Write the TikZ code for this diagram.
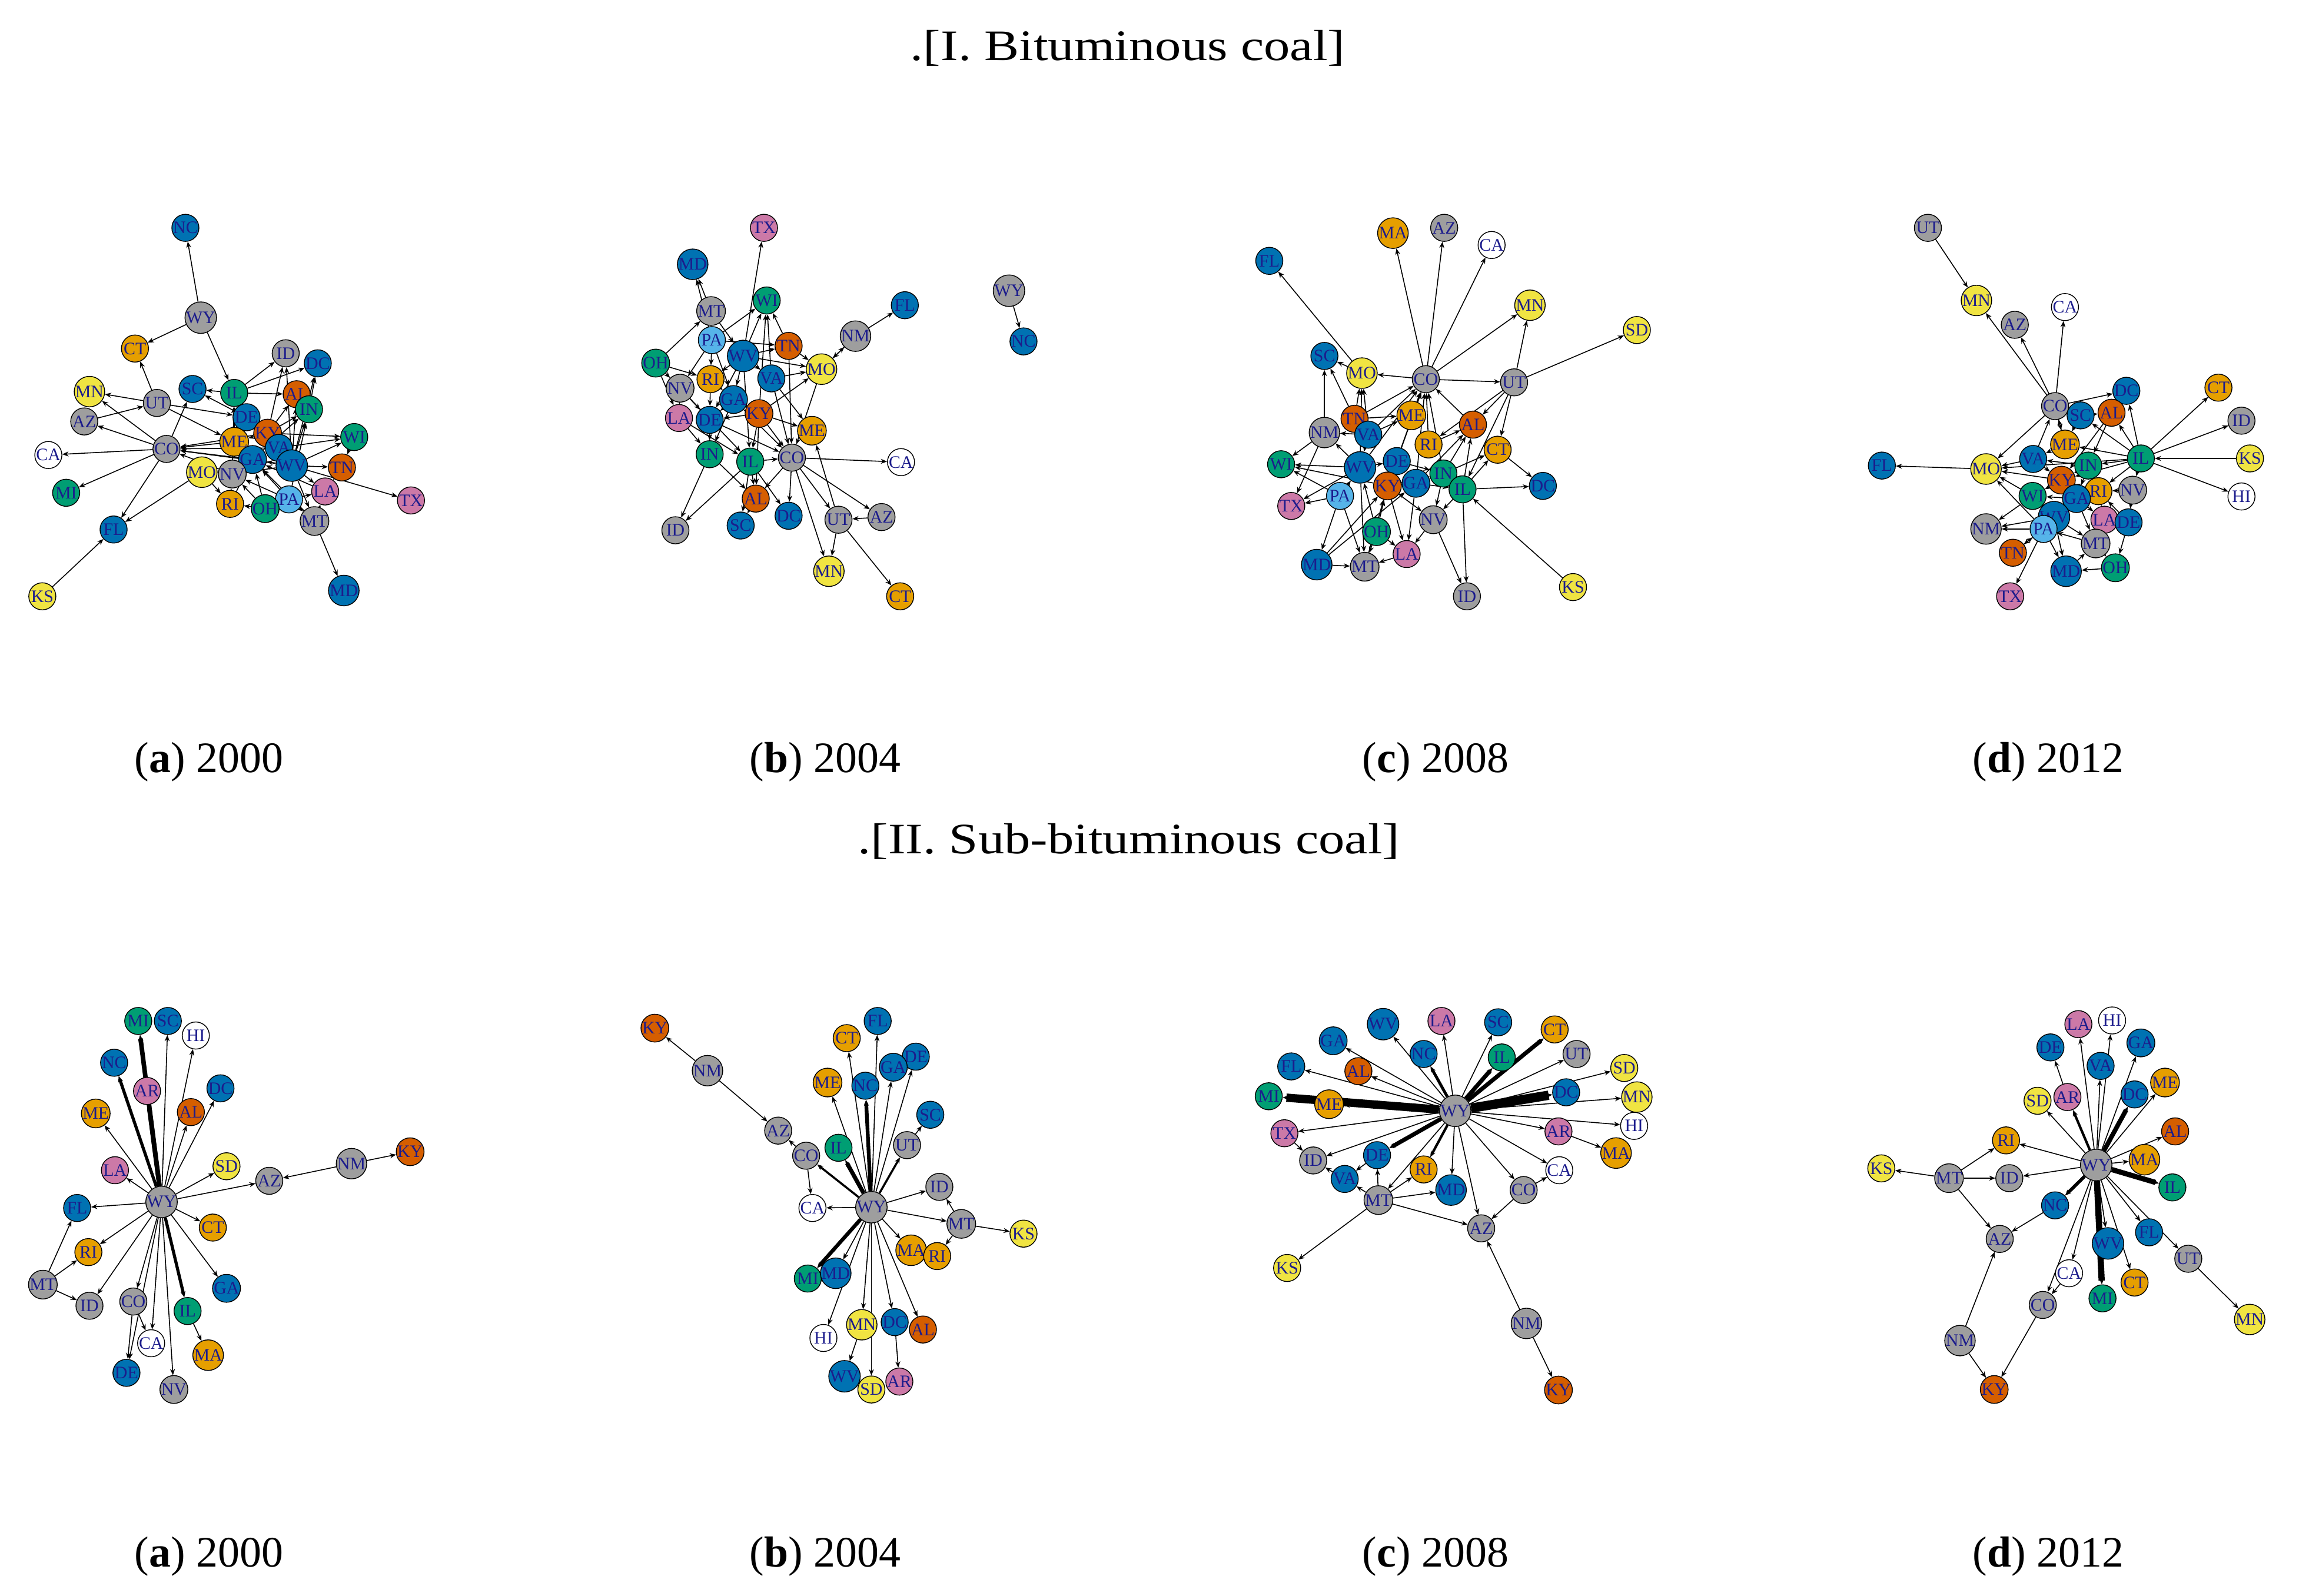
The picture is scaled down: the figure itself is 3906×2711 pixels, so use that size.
\documentclass[tikz,border=0pt]{standalone}
\usepackage{fontspec}
\setmainfont{Liberation Serif}
\usetikzlibrary{arrows.meta}

\definecolor{cgr}{HTML}{9E9E9E}
\definecolor{cbl}{HTML}{0072B2}
\definecolor{csk}{HTML}{56B4E9}
\definecolor{cor}{HTML}{E69F00}
\definecolor{cvm}{HTML}{D55E00}
\definecolor{cgn}{HTML}{009E73}
\definecolor{cyl}{HTML}{F0E442}
\definecolor{cpu}{HTML}{CC79A7}
\definecolor{cwh}{HTML}{FFFFFF}
\definecolor{lab}{HTML}{1C1C8C}

\pgfdeclarelayer{bg}
\pgfsetlayers{bg,main}

\begin{document}
\begin{tikzpicture}[x=0.01cm,y=-0.01cm,
    st/.style={circle,draw=black,line width=0.4pt,fill=#1,minimum size=0.46cm,
      inner sep=0pt,text=lab,font=\fontsize{8.5}{9}\selectfont},
    ed/.style={line width=0.45pt,-{Stealth[length=3pt,width=2.4pt]}},
    captxt/.style={font=\fontsize{21}{24}\selectfont},
    ttl/.style={captxt,transform shape,xscale=1.2},
    pnl/.style={x=0.004651cm,y=-0.004484cm}]
  \useasboundingbox (0,0) rectangle (3906,2711);

  % titles and captions
  \node[ttl] (title1) at (1916,82) {.[I. Bituminous coal]};
  \node[ttl] (title2) at (1918,1430) {.[II. Sub-bituminous coal]};
  \foreach \r/\y in {1/1295,2/2645}{
    \foreach \l/\x/\yr in {a/355/2000,b/1402/2004,c/2439/2008,d/3480/2012}{
      \node[captxt] (cap\r\l) at (\x,\y) {(\textbf{\l}) \yr};
    }
  }

  % I(a) 2000
  \begin{scope}[shift={(30,340)},pnl,name prefix=ia-]
    \foreach \n/\x/\y/\c in {NC/612/105/cbl,WY/668/445/cgr,CT/428/562/cor,ID/978/580/cgr,
      DC/1095/618/cbl,MN/262/725/cyl,SC/638/715/cbl,IL/790/730/cgn,UT/508/768/cgr,
      AL/1018/735/cvm,IN/1063/792/cgn,AZ/243/838/cgr,DE/835/822/cbl,KY/912/882/cvm,
      WI/1228/897/cgn,ME/790/915/cor,CO/543/942/cgr,VA/953/938/cbl,CA/112/965/cwh,
      GA/857/982/cbl,WV/1000/1005/cbl,TN/1183/1012/cvm,MO/672/1030/cyl,NV/783/1037/cgr,
      LA/1122/1103/cpu,MI/177/1108/cgn,TX/1435/1137/cpu,RI/775/1150/cor,PA/990/1133/csk,
      OH/903/1168/cgn,MT/1083/1215/cgr,FL/350/1247/cbl,MD/1190/1478/cbl,KS/90/1500/cyl}
      \node[st=\c] (\n) at (\x,\y) {\n};
    \begin{pgfonlayer}{bg}
      \foreach \s/\t in {WY/NC,WY/CT,WY/IL,UT/CT,UT/MN,CO/MN,CO/AZ,AZ/UT,CO/CA,CO/MI,
        CO/FL,MO/FL,KS/FL,CO/SC,UT/DE,UT/ME,IL/SC,DE/SC,IL/ID,IL/DC,IL/AL,ME/CO,GA/CO,
        KY/CO,VA/CO,WV/CO,NV/CO,MO/RI,MT/MD,WV/TX,KY/WI,WV/WI,VA/WI,WI/TN,WV/TN,WV/LA,
        PA/LA,WV/MT,PA/MT,OH/RI,PA/GA,OH/GA,PA/NV,OH/NV,GA/IN,KY/IN,WV/IN,PA/IN,WV/DC,
        IN/DC,KY/ID,WV/ID,KY/DE,WV/DE,VA/DE,KY/ME,GA/ME,WV/GA,NV/IL,WV/AL,KY/AL,RI/GA,
        MT/GA,LA/GA,WV/NV,TN/LA,MT/LA,ME/IL,RI/NV}
        \draw[ed] (\s) -- (\t);
    \end{pgfonlayer}
  \end{scope}

  % I(b) 2004
  \begin{scope}[shift={(1080,340)},pnl,name prefix=ib-]
    \foreach \n/\x/\y/\c in {TX/468/105/cpu,MD/208/243/cbl,WY/1362/343/cgr,WI/478/380/cgn,
      FL/982/398/cbl,MT/275/420/cgr,NM/802/515/cgr,PA/278/530/csk,NC/1415/535/cbl,
      TN/558/552/cvm,WV/392/590/cbl,OH/73/617/cgn,MO/678/640/cyl,RI/273/678/cor,
      VA/495/675/cbl,NV/162/712/cgr,GA/357/755/cbl,LA/158/825/cpu,KY/450/808/cvm,
      DE/270/832/cbl,ME/643/873/cor,IN/270/962/cgn,IL/418/990/cgn,CO/570/975/cgr,
      CA/968/992/cwh,AL/438/1130/cvm,DC/558/1195/cbl,SC/383/1232/cbl,UT/740/1210/cgr,
      AZ/897/1200/cgr,ID/145/1250/cgr,MN/705/1405/cyl,CT/965/1500/cor}
      \node[st=\c] (\n) at (\x,\y) {\n};
    \begin{pgfonlayer}{bg}
      \foreach \s/\t in {WY/NC,NM/FL,NM/MO,MO/NM,CO/CA,CO/AZ,AZ/UT,UT/MN,UT/CT,UT/ME,
        CO/MN,CO/UT,CO/DC,IN/ID,IL/ID,IN/AL,IL/AL,AL/SC,IL/SC,WV/TX,MT/MD,PA/MD,OH/MT,
        PA/WI,WV/WI,VA/WI,TN/WI,KY/WI,PA/TN,WV/TN,WV/VA,TN/MO,VA/MO,KY/MO,WV/MO,VA/ME,
        KY/ME,PA/RI,OH/RI,OH/NV,OH/LA,NV/LA,RI/DE,GA/DE,KY/DE,NV/DE,DE/IN,LA/IN,GA/IN,
        KY/IL,KY/CO,IL/CO,DE/CO,GA/CO,WV/GA,PA/GA,WV/RI,IL/DC,KY/AL,TN/CO,VA/CO,MO/CO,
        CO/AL,WV/IL,PA/NV,LA/IL,NV/IL,RI/GA,MT/WV,WV/DE}
        \draw[ed] (\s) -- (\t);
    \end{pgfonlayer}
  \end{scope}

  % I(c) 2008
  \begin{scope}[shift={(2130,340)},pnl,name prefix=ic-]
    \foreach \n/\x/\y/\c in {MA/508/125/cor,AZ/695/105/cgr,CA/868/170/cwh,FL/57/230/cbl,
      MN/1008/398/cyl,SD/1398/492/cyl,SC/258/590/cbl,MO/395/655/cyl,CO/628/678/cgr,
      UT/950/690/cgr,TN/368/828/cvm,ME/575/815/cor,AL/800/850/cvm,NM/258/880/cgr,
      VA/418/888/cbl,RI/638/925/cor,CT/890/945/cor,WI/100/1000/cgn,WV/388/1012/cbl,
      DE/522/988/cbl,IN/692/1035/cgn,DC/1055/1082/cbl,KY/488/1082/cvm,GA/592/1072/cbl,
      IL/762/1095/cgn,PA/315/1120/csk,TX/137/1158/cpu,NV/655/1210/cgr,OH/448/1255/cgn,
      LA/558/1340/cpu,MD/230/1380/cbl,MT/405/1388/cgr,ID/778/1500/cgr,KS/1165/1465/cyl}
      \node[st=\c] (\n) at (\x,\y) {\n};
    \begin{pgfonlayer}{bg}
      \foreach \s/\t in {CO/MA,CO/AZ,CO/CA,CO/MN,UT/MN,UT/SD,CO/UT,CO/MO,MO/SC,MO/FL,
        TN/SC,NM/SC,UT/AL,UT/CT,UT/RI,UT/IL,CT/DC,IL/DC,IL/ID,KS/IL,NV/ID,PA/TX,NM/TX,
        NM/WI,WV/WI,PA/WI,KY/WI,PA/MD,MD/MT,PA/MT,OH/MT,WV/MT,OH/LA,KY/LA,NV/LA,GA/LA,
        IN/NV,IL/NV,KY/NV,TN/CO,VA/CO,WV/CO,DE/CO,KY/CO,ME/CO,RI/CO,GA/CO,AL/CO,IN/CO,
        TN/ME,VA/ME,WV/MO,VA/MO,TN/MO,WV/NM,VA/NM,IN/CT,IL/CT,GA/AL,IN/AL,RI/AL,IL/AL,
        DE/IN,KY/IN,GA/IL,IN/IL,WV/DE,KY/GA,PA/WV,MD/KY,OH/WV,MT/KY,LA/MT,MD/GA,WV/TX,
        OH/KY,VA/WV}
        \draw[ed] (\s) -- (\t);
    \end{pgfonlayer}
  \end{scope}

  % I(d) 2012
  \begin{scope}[shift={(3160,340)},pnl,name prefix=id-]
    \foreach \n/\x/\y/\c in {UT/248/105/cgr,MN/425/380/cyl,CA/748/405/cwh,AZ/565/472/cgr,
      CT/1308/710/cor,DC/972/722/cbl,CO/712/780/cgr,SC/805/815/cbl,AL/918/805/cvm,
      ID/1392/835/cgr,ME/748/925/cor,FL/80/1005/cbl,VA/632/980/cbl,IN/833/1005/cgn,
      IL/1025/978/cgn,KS/1423/978/cyl,MO/460/1018/cyl,KY/735/1060/cvm,RI/870/1102/cor,
      NV/995/1098/cgr,WI/630/1120/cgn,GA/790/1130/cbl,HI/1392/1122/cwh,WV/708/1200/cbl,
      LA/892/1210/cpu,DE/980/1220/cbl,NM/460/1245/cgr,PA/670/1245/csk,MT/860/1300/cgr,
      TN/558/1335/cvm,OH/932/1392/cgn,MD/752/1405/cbl,TX/548/1500/cpu}
      \node[st=\c] (\n) at (\x,\y) {\n};
    \begin{pgfonlayer}{bg}
      \foreach \s/\t in {UT/MN,CO/MN,CO/AZ,CO/CA,CO/MO,MO/FL,IL/CT,IL/ID,KS/IL,IL/HI,
        CO/DC,SC/AL,IL/DC,IL/AL,IL/SC,IL/ME,IL/IN,IL/NV,IL/KY,IL/RI,IL/MO,VA/MO,KY/MO,
        WI/MO,PA/MO,WI/NM,WV/NM,PA/NM,PA/TN,PA/TX,TN/PA,WV/MD,PA/MD,OH/MD,MT/OH,MD/MT,
        LA/MT,DE/OH,NV/DE,VA/CO,ME/CO,CO/ME,SC/ME,ME/VA,IN/VA,KY/WI,GA/WI,IN/KY,RI/KY,
        NV/RI,RI/IN,AL/IN,AL/KY,GA/LA,LA/DE,WV/MT,RI/LA,GA/MT,WI/WV,KY/GA,DE/RI,IN/GA,
        CO/SC,VA/KY,MT/PA}
        \draw[ed] (\s) -- (\t);
    \end{pgfonlayer}
  \end{scope}

  % II(a) 2000
  \begin{scope}[shift={(30,1690)},pnl,name prefix=iia-]
    \foreach \n/\x/\y/\c in {MI/440/100/cgn,SC/548/100/cbl,HI/650/155/cwh,NC/352/258/cbl,
      AR/472/365/cpu,DC/740/355/cbl,ME/285/450/cor,AL/632/445/cvm,LA/355/665/cpu,
      SD/762/650/cyl,NM/1218/640/cgr,KY/1432/595/cvm,AZ/918/705/cgr,WY/525/785/cgr,
      FL/217/808/cbl,CT/712/882/cor,RI/258/975/cor,GA/762/1112/cbl,MT/92/1098/cgr,
      ID/262/1178/cgr,CO/422/1162/cgr,IL/620/1198/cgn,CA/487/1320/cwh,MA/695/1365/cor,
      DE/397/1432/cbl,NV/570/1495/cgr}
      \node[st=\c] (\n) at (\x,\y) {\n};
    \begin{pgfonlayer}{bg}
      \foreach \s/\t in {WY/SC,WY/HI,WY/DC,WY/ME,WY/AL,WY/LA,WY/SD,WY/AZ,NM/AZ,NM/KY,
        WY/FL,WY/CT,WY/RI,WY/GA,WY/ID,WY/CO,WY/CA,WY/NV,WY/DE,IL/MA,CO/CA,CO/DE,MT/FL,
        MT/RI,MT/ID}
        \draw[ed] (\s) -- (\t);
      \foreach \s/\t/\w in {WY/MI/2.2,WY/NC/1.5,WY/AR/2.2,WY/IL/1.5}
        \draw[ed,line width=\w pt] (\s) -- (\t);
    \end{pgfonlayer}
  \end{scope}

  % II(b) 2004
  \begin{scope}[shift={(1080,1690)},pnl,name prefix=iib-]
    \foreach \n/\x/\y/\c in {KY/70/127/cvm,FL/883/100/cbl,CT/770/165/cor,DE/1022/235/cbl,
      GA/940/275/cbl,NM/262/288/cgr,ME/700/333/cor,NC/838/345/cbl,SC/1075/455/cbl,
      AZ/520/515/cgr,UT/990/570/cgr,IL/740/580/cgn,CO/622/610/cgr,ID/1108/728/cgr,
      CA/645/808/cwh,WY/860/805/cgr,MT/1188/868/cgr,KS/1415/905/cyl,MA/1005/968/cor,
      RI/1100/990/cor,MI/628/1075/cgn,MD/730/1055/cbl,HI/685/1300/cwh,MN/825/1250/cyl,
      DC/945/1240/cbl,AL/1048/1268/cvm,WV/762/1445/cbl,SD/860/1495/cyl,AR/962/1465/cpu}
      \node[st=\c] (\n) at (\x,\y) {\n};
    \begin{pgfonlayer}{bg}
      \foreach \s/\t in {NM/KY,NM/AZ,CO/AZ,CO/CA,WY/CA,WY/ME,WY/CT,WY/FL,WY/GA,WY/DE,
        UT/SC,WY/ID,MT/ID,WY/MT,MT/KS,MT/RI,WY/MA,WY/MD,WY/HI,WY/MN,MN/WV,WY/SD,WY/DC,
        DC/AR,WY/AL}
        \draw[ed] (\s) -- (\t);
      \foreach \s/\t/\w in {WY/IL/2.0,WY/NC/1.8,WY/MI/1.8,WY/CO/1.0,WY/UT/1.0}
        \draw[ed,line width=\w pt] (\s) -- (\t);
    \end{pgfonlayer}
  \end{scope}

  % II(c) 2008
  \begin{scope}[shift={(2130,1690)},pnl,name prefix=iic-]
    \foreach \n/\x/\y/\c in {LA/685/100/cpu,WV/472/112/cbl,SC/892/105/cbl,CT/1098/132/cor,
      GA/290/175/cbl,NC/620/225/cbl,IL/905/238/cgn,UT/1178/225/cgr,FL/137/272/cbl,
      AL/382/290/cvm,SD/1352/278/cyl,DC/1140/370/cbl,MI/55/385/cgn,MN/1398/388/cyl,
      ME/275/415/cor,WY/735/440/cgr,HI/1388/497/cwh,TX/112/525/cpu,AR/1112/518/cpu,
      MA/1322/600/cor,ID/217/628/cgr,DE/450/608/cbl,CA/1115/665/cwh,RI/620/662/cor,
      VA/332/698/cbl,MD/720/740/cbl,CO/985/740/cgr,MT/455/778/cgr,AZ/830/885/cgr,
      KS/122/1035/cyl,NM/995/1245/cgr,KY/1112/1497/cvm}
      \node[st=\c] (\n) at (\x,\y) {\n};
    \begin{pgfonlayer}{bg}
      \foreach \s/\t in {WY/WV,WY/LA,WY/SC,WY/GA,WY/UT,WY/FL,WY/AL,WY/SD,WY/MN,WY/ME,
        WY/HI,WY/TX,WY/AR,AR/MA,WY/ID,WY/CA,WY/MD,WY/CO,WY/AZ,WY/MT,MT/DE,MT/VA,DE/VA,
        TX/ID,VA/ID,MT/RI,MT/MD,MT/AZ,MT/KS,CO/CA,CO/AZ,NM/AZ,NM/KY}
        \draw[ed] (\s) -- (\t);
      \foreach \s/\t/\w in {WY/MI/4.0,WY/DC/4.5,WY/CT/2.0,WY/IL/2.0,WY/NC/1.4,WY/DE/2.0,
        WY/RI/1.2}
        \draw[ed,line width=\w pt] (\s) -- (\t);
    \end{pgfonlayer}
  \end{scope}

  % II(d) 2012
  \begin{scope}[shift={(3160,1690)},pnl,name prefix=iid-]
    \foreach \n/\x/\y/\c in {HI/920/98/cwh,LA/797/112/cpu,GA/1025/183/cbl,DE/695/200/cbl,
      VA/878/270/cbl,ME/1113/333/cor,SD/648/402/cyl,AR/757/388/cpu,DC/1002/378/cbl,
      AL/1150/518/cvm,RI/533/552/cor,MA/1038/625/cor,WY/862/645/cgr,KS/78/658/cyl,
      MT/325/695/cgr,ID/545/695/cgr,IL/1140/730/cgn,NC/712/798/cbl,FL/1055/900/cbl,
      AZ/510/925/cgr,WV/905/942/cbl,UT/1198/1000/cgr,CA/763/1055/cwh,CT/1002/1090/cor,
      CO/667/1175/cgr,MI/885/1150/cgn,NM/365/1310/cgr,MN/1422/1230/cyl,KY/490/1495/cvm}
      \node[st=\c] (\n) at (\x,\y) {\n};
    \begin{pgfonlayer}{bg}
      \foreach \s/\t in {WY/HI,WY/LA,WY/GA,AR/DE,WY/VA,WY/ME,WY/SD,WY/AL,WY/RI,WY/MA,
        WY/ID,WY/FL,WY/UT,UT/MN,WY/WV,WY/CT,WY/CA,WY/CO,CA/CO,CO/KY,NM/KY,NM/AZ,NC/AZ,
        MT/AZ,MT/KS,MT/RI,MT/ID}
        \draw[ed] (\s) -- (\t);
      \foreach \s/\t/\w in {WY/MI/3.0,WY/IL/2.5,WY/DC/2.2,WY/NC/1.6,WY/AR/1.2}
        \draw[ed,line width=\w pt] (\s) -- (\t);
    \end{pgfonlayer}
  \end{scope}
\end{tikzpicture}
\end{document}
